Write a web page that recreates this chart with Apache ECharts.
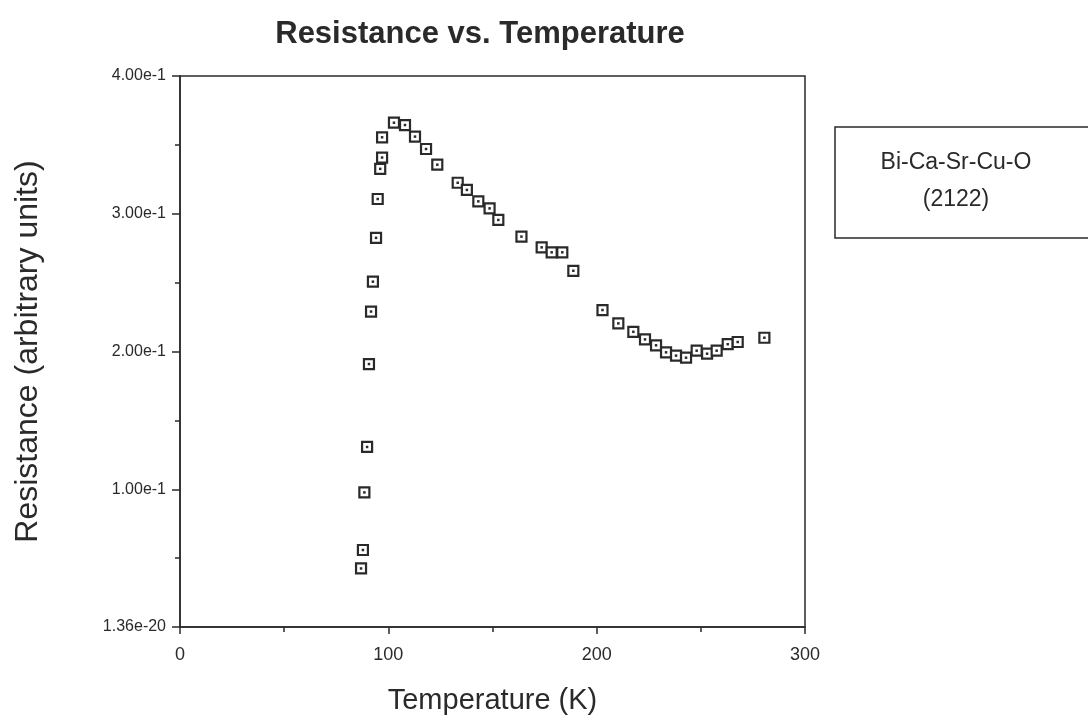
<!DOCTYPE html>
<html>
<head>
<meta charset="utf-8">
<script src="https://cdn.jsdelivr.net/npm/echarts@6/dist/echarts.min.js"></script>
<style>
  html, body { margin: 0; padding: 0; background: #fff; }
  #chart { width: 1088px; height: 717px; }
</style>
</head>
<body>
<div id="chart"></div>
<script>
// temperature (K) and resistance (arbitrary units)
const temps = [
  86.9, 87.8, 88.5, 89.8, 90.7, 91.7, 92.6, 94.1, 94.9, 96.1, 97.0, 97.0,
  102.7, 108.0, 112.8, 118.1, 123.5, 133.3, 137.7, 143.2, 148.6, 152.8,
  163.9, 173.6, 178.4, 183.5, 188.8, 202.8, 210.4, 217.6, 223.2, 228.5,
  233.3, 238.1, 242.9, 248.0, 253.0, 257.6, 262.9, 267.7, 280.5
]
const resistance = [
  0.0425, 0.0559, 0.0977, 0.1307, 0.1909, 0.2290, 0.2507, 0.2825, 0.3107, 0.3326, 0.3408, 0.3555,
  0.3661, 0.3644, 0.3560, 0.3470, 0.3356, 0.3225, 0.3173, 0.3090, 0.3039, 0.2955,
  0.2834, 0.2756, 0.2720, 0.2720, 0.2586, 0.2301, 0.2204, 0.2143, 0.2088, 0.2045,
  0.1994, 0.1970, 0.1955, 0.2006, 0.1984, 0.2006, 0.2053, 0.2069, 0.2100
]
const xTicks = [0, 100, 200, 300]
const yTickLabels = ['1.36e-20', '1.00e-1', '2.00e-1', '3.00e-1', '4.00e-1']
const legendLines = ['Bi-Ca-Sr-Cu-O', '(2122)']

const font = '"Liberation Sans", Arial, Helvetica, sans-serif'
const ink = '#2a2a2a'

const points = temps.map((t, i) => [t, resistance[i]])

const chart = echarts.init(document.getElementById('chart'))
chart.setOption({
  backgroundColor: '#fff',
  animation: false,
  textStyle: { fontFamily: font },
  title: {
    text: 'Resistance vs. Temperature',
    left: 475,
    textAlign: 'center',
    top: 14,
    textStyle: { fontFamily: font, fontSize: 31, fontWeight: 'bold', color: ink }
  },
  grid: {
    left: 180, right: 283, top: 76, bottom: 90,
    outerBoundsMode: 'none',
    containLabel: false,
    show: true, borderColor: ink, borderWidth: 1.5, backgroundColor: 'transparent'
  },
  xAxis: {
    type: 'value',
    min: 0, max: 300, interval: 100,
    name: 'Temperature (K)',
    nameLocation: 'middle',
    nameGap: 59,
    nameTextStyle: { fontFamily: font, fontSize: 29, color: ink },
    axisLine: { show: true, lineStyle: { color: ink, width: 1.5 } },
    axisTick: { show: true, length: 7, lineStyle: { color: ink, width: 1.5 } },
    minorTick: { show: true, splitNumber: 2, length: 5, lineStyle: { color: ink, width: 1.5 } },
    splitLine: { show: false },
    axisLabel: {
      fontSize: 18, color: ink, margin: 19,
      formatter: (v) => xTicks.includes(v) ? String(v) : ''
    }
  },
  yAxis: {
    type: 'value',
    min: 0, max: 0.4, interval: 0.1,
    name: 'Resistance (arbitrary units)',
    nameLocation: 'middle',
    nameGap: 136,
    nameTextStyle: { fontFamily: font, fontSize: 32, color: ink },
    axisLine: { show: true, lineStyle: { color: ink, width: 1.5 } },
    axisTick: { show: true, length: 8, lineStyle: { color: ink, width: 1.5 } },
    minorTick: { show: true, splitNumber: 2, length: 5, lineStyle: { color: ink, width: 1.5 } },
    splitLine: { show: false },
    axisLabel: {
      fontSize: 16, color: ink, margin: 14,
      formatter: (v) => yTickLabels[Math.round(v * 10)] || ''
    }
  },
  graphic: [
    {
      type: 'rect',
      shape: { x: 835, y: 127, width: 260, height: 111 },
      style: { fill: '#fff', stroke: ink, lineWidth: 1.5 }
    },
    {
      type: 'text',
      x: 956, y: 163,
      style: {
        text: legendLines[0], font: '23px ' + font, fill: ink,
        align: 'center', verticalAlign: 'middle'
      }
    },
    {
      type: 'text',
      x: 956, y: 200,
      style: {
        text: legendLines[1], font: '23px ' + font, fill: ink,
        align: 'center', verticalAlign: 'middle'
      }
    }
  ],
  series: [
    {
      name: 'Bi-Ca-Sr-Cu-O (2122)',
      type: 'scatter',
      data: points,
      symbol: 'rect',
      symbolSize: 10,
      itemStyle: { color: '#fff', borderColor: ink, borderWidth: 2.2, opacity: 1 }
    },
    {
      name: 'dot',
      type: 'scatter',
      data: points,
      symbol: 'rect',
      symbolSize: 2.5,
      silent: true,
      itemStyle: { color: ink, opacity: 1 }
    }
  ]
})
</script>
</body>
</html>
